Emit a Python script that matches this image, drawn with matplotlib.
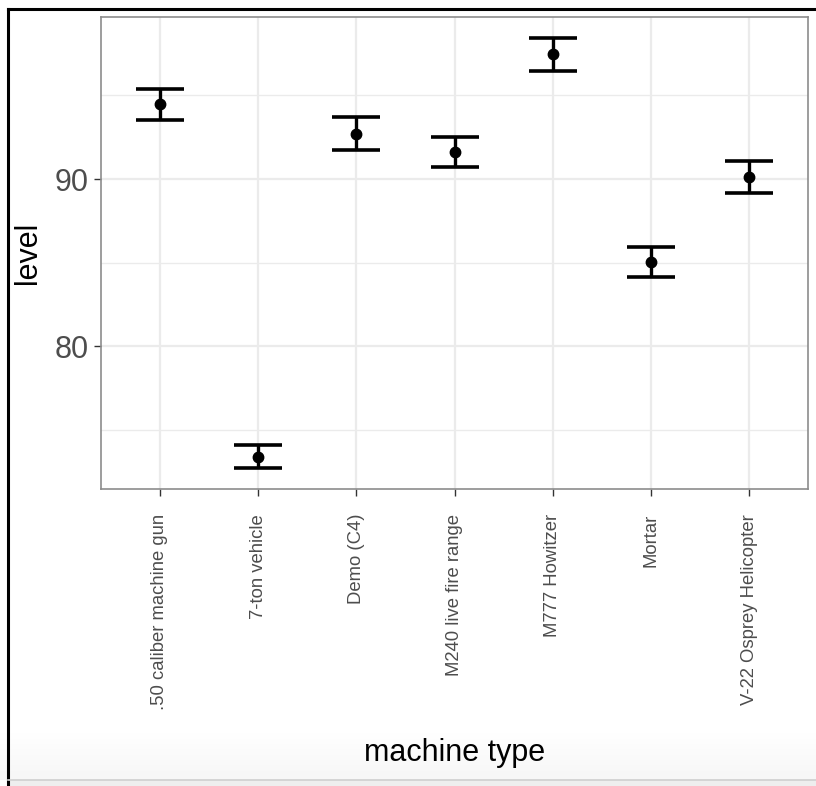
import numpy as np
import matplotlib
matplotlib.use("Agg")
import matplotlib.pyplot as plt
from matplotlib.lines import Line2D

plt.rcParams['font.family'] = ['Liberation Sans', 'DejaVu Sans']

machines = [
    ".50 caliber machine gun",
    "7-ton vehicle",
    "Demo (C4)",
    "M240 live fire range",
    "M777 Howitzer",
    "Mortar",
    "V-22 Osprey Helicopter",
]
level_mean = [94.47, 73.37, 92.69, 91.63, 97.47, 85.05, 90.14]
level_low = [93.55, 72.68, 91.74, 90.74, 96.49, 84.15, 89.14]
level_high = [95.41, 74.07, 93.69, 92.53, 98.43, 85.95, 91.08]

mean = np.array(level_mean)
err = np.array([mean - np.array(level_low), np.array(level_high) - mean])
x = np.arange(1, len(machines) + 1)

fig = plt.figure(figsize=(8.16, 7.86), dpi=100)
ax = fig.add_axes([101 / 816, 1 - 489 / 786, 707 / 816, 472 / 786])

# grid like theme_bw
for v in [75, 85, 95]:
    ax.axhline(v, color="#EBEBEB", lw=1.0, zorder=0)
for v in [80, 90]:
    ax.axhline(v, color="#EBEBEB", lw=1.6, zorder=0)
for v in x:
    ax.axvline(v, color="#EBEBEB", lw=1.6, zorder=0)

ax.errorbar(
    x, mean, yerr=err,
    fmt="o", color="black", markersize=7.5,
    elinewidth=2.4, capsize=17.3, capthick=2.6, zorder=3
)

ax.set_xlim(0.4, 7.6)
ax.set_ylim(71.44, 99.7)
ax.set_yticks([80, 90])
ax.set_xticks(x)
ax.set_xticklabels(machines, rotation=90, fontsize=13.3, color="#4D4D4D")
ax.tick_params(axis="y", labelsize=22, labelcolor="#4D4D4D")
ax.tick_params(length=5, width=1, color="#333333", pad=4)
ax.tick_params(axis="x", pad=13)

for s in ax.spines.values():
    s.set_color("#8C8C8C")
    s.set_linewidth(1.2)

ax.set_xlabel("machine type", fontsize=22)
ax.set_ylabel("level", fontsize=22)
ax.xaxis.set_label_coords(0.5, (489 - 738) / 472, transform=ax.transAxes)
ax.yaxis.set_label_coords((43 - 101) / 707, 0.5 - (253 - 253) / 472, transform=ax.transAxes)

# screenshot frame and bottom strip
grad = fig.add_axes([0, 6 / 786, 1, 50 / 786], zorder=-5)
grad.imshow(np.linspace(0, 1, 50).reshape(-1, 1) * np.ones((1, 10)),
            aspect="auto", cmap="Greys", vmin=0, vmax=14, origin="upper")
grad.axis("off")
fig.add_artist(Line2D([8 / 816, 8 / 816], [0, 1 - 9 / 786], transform=fig.transFigure,
                      color="black", lw=2.2))
fig.add_artist(Line2D([8 / 816, 1], [1 - 9 / 786, 1 - 9 / 786], transform=fig.transFigure,
                      color="black", lw=2.2))
fig.add_artist(Line2D([8 / 816, 1], [6 / 786, 6 / 786], transform=fig.transFigure,
                      color="#CFCFCF", lw=1.2))
fig.patches.append(plt.Rectangle((8 / 816, 0), 1, 6 / 786, transform=fig.transFigure,
                                 color="#EEEEEE", zorder=-6))

fig.savefig("out.png", dpi=100)
